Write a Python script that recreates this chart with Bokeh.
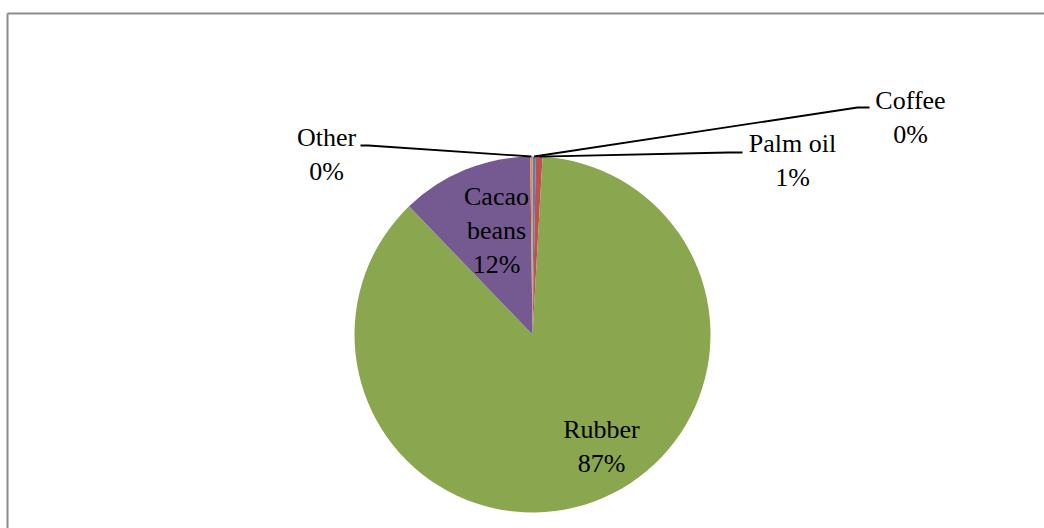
import math
from bokeh.plotting import figure
from bokeh.models import Range1d, ColumnDataSource
from bokeh.core.properties import value
from bokeh.embed import file_html
from bokeh.resources import INLINE

# ---- data (in Excel drawing order, clockwise from 12 o'clock) ----
categories = ["Coffee", "Palm oil", "Rubber", "Cacao beans", "Other"]
shares = [0.3, 0.6, 86.9, 12.0, 0.2]
pct_labels = ["0%", "1%", "87%", "12%", "0%"]
label_text = ["Coffee", "Palm oil", "Rubber", "Cacao\nbeans", "Other"]
colors = ["#4F81BD", "#C0504D", "#8AA64F", "#745A90", "#F08A3C"]

# ---- layout (pixel space: x right, y up) ----
W, H = 1044, 528
CX, CY, R = 532, H - 334, 178
label_pos = {           # centre of label block (px from top-left)
    "Coffee": (910, 117),
    "Palm oil": (792, 160),
    "Rubber": (601, 446),
    "Cacao beans": (496, 230),
    "Other": (326, 154),
}
elbows = {              # leader elbow and end near label (px from top-left)
    "Coffee": [(857, 107), (869, 107)],
    "Palm oil": [(728, 152), (742, 152)],
    "Other": [(368, 145), (360, 145)],
}
FONT = "Liberation Serif"

p = figure(width=W, height=H, output_backend="svg", toolbar_location=None,
           x_range=Range1d(0, W), y_range=Range1d(0, H), min_border=0)
p.axis.visible = False
p.grid.visible = False
p.outline_line_color = None
p.background_fill_color = "white"
p.border_fill_color = "white"

total = sum(shares)
starts, ends, mids = [], [], []
acc = 0.0
for s in shares:
    a0 = math.pi / 2 - 2 * math.pi * acc / total
    acc += s
    a1 = math.pi / 2 - 2 * math.pi * acc / total
    starts.append(a0)
    ends.append(a1)
    mids.append((a0 + a1) / 2)

src = ColumnDataSource(dict(x=[CX] * len(shares), y=[CY] * len(shares),
                            start=starts, end=ends, color=colors))
p.wedge(x="x", y="y", radius=R, start_angle="start", end_angle="end",
        direction="clock", fill_color="color", line_color=None, source=src)

# chart-area border (only top and left visible in the crop)
p.segment(x0=[7, 7], y0=[H - 13, H - 13], x1=[W + 5, 7], y1=[H - 13, -5],
          line_color="#8C8C8C", line_width=2)

# leader lines
for i, cat in enumerate(categories):
    if cat in elbows:
        px = CX + R * math.cos(mids[i])
        py = CY + R * math.sin(mids[i])
        pts = [(px, py)] + [(ex, H - ey) for ex, ey in elbows[cat]]
        p.line([q[0] for q in pts], [q[1] for q in pts], line_color="black",
               line_width=1.8)

# labels
lx, ly, lt = [], [], []
for i, cat in enumerate(categories):
    x, y = label_pos[cat]
    lx.append(x)
    ly.append(H - y)
    lt.append(label_text[i] + "\n" + pct_labels[i])
p.text(x=lx, y=ly, text=lt, text_align="center", text_baseline="middle",
       text_font=value(FONT), text_font_size="26px", text_color="black",
       text_line_height=1.18)

open("out.html", "w").write(file_html(p, INLINE))
